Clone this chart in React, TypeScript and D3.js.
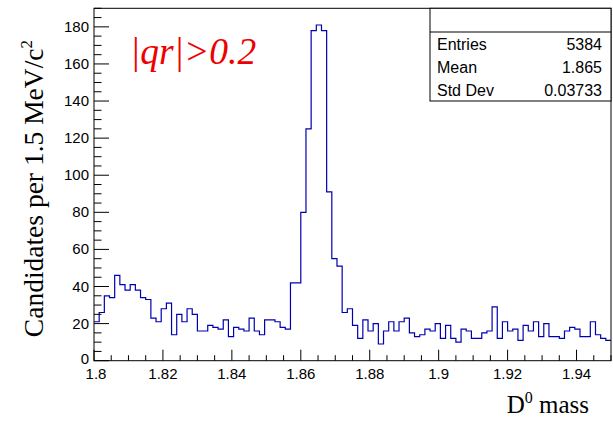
import React from "react";
import * as d3 from "d3";

const X_MIN = 1.8;
const X_MAX = 1.95;
const Y_MAX = 190;

const counts: number[] = [
  21, 26, 35, 34, 46, 41, 38, 41, 38, 34, 33, 23, 21, 28, 31, 14, 25, 21, 28, 25,
  16, 16, 19, 18, 17, 22, 13, 18, 17, 16, 23, 16, 14, 22, 22, 21, 18, 17,
  42, 42, 80, 125, 178, 181, 178, 91, 55, 51, 26, 28, 19, 12, 22, 16, 20, 9,
  16, 21, 16, 21, 23, 15, 13, 14, 17, 16, 20, 12, 19, 12, 10, 17, 16, 12, 12, 15,
  16, 29, 12, 21, 16, 17, 11, 19, 16, 21, 13, 20, 13, 13, 12, 16, 18, 17, 13, 13,
  21, 14, 12, 11,
];

const xTickValues = [1.8, 1.82, 1.84, 1.86, 1.88, 1.9, 1.92, 1.94];
const xTickLabels = ["1.8", "1.82", "1.84", "1.86", "1.88", "1.9", "1.92", "1.94"];
const yTickValues = [0, 20, 40, 60, 80, 100, 120, 140, 160, 180];

const statNames = ["Entries", "Mean", "Std Dev"];
const statValues = ["5384", "1.865", "0.03733"];

const L = 94, R = 611, T = 8.3, B = 360.7;

export default function App() {
  const x = d3.scaleLinear().domain([X_MIN, X_MAX]).range([L, R]);
  const y = d3.scaleLinear().domain([0, Y_MAX]).range([B, T]);
  const n = counts.length;
  const bw = (X_MAX - X_MIN) / n;

  const pts: [number, number][] = [];
  counts.forEach((c, i) => {
    pts.push([x(X_MIN + i * bw), y(c)]);
    pts.push([x(X_MIN + (i + 1) * bw), y(c)]);
  });
  const path = d3.line()(pts) || "";

  const xMinor = d3.range(0, 31).map((k) => X_MIN + k * 0.005);
  const yMinor = d3.range(0, 39).map((k) => k * 5);

  const sans = "'Liberation Sans', Arial, Helvetica, sans-serif";
  const serif = "'Liberation Serif', 'Times New Roman', serif";

  return (
    <svg width={613} height={422} style={{ position: "absolute", left: 0, top: 0, background: "#fff" }}>
      <rect x={0} y={0} width={613} height={422} fill="#fff" />
      {/* histogram */}
      <path d={path} fill="none" stroke="#0000b0" strokeWidth={1.2} />
      {/* frame */}
      <rect x={L} y={T} width={R - L} height={B - T} fill="none" stroke="#000" strokeWidth={1} />
      {/* y ticks */}
      {yMinor.filter((v) => v <= Y_MAX).map((v) => (
        <line key={"ym" + v} x1={L} x2={L + (v % 20 === 0 ? 15 : 7.5)} y1={y(v)} y2={y(v)} stroke="#000" strokeWidth={1} />
      ))}
      {yTickValues.map((v) => (
        <text key={"yl" + v} x={L - 5} y={y(v) + (v === 0 ? 3.5 : 5)} textAnchor="end" fontFamily={sans} fontSize={15} fill="#000">
          {v}
        </text>
      ))}
      {/* x ticks */}
      {xMinor.map((v, k) => (
        <line key={"xm" + k} x1={x(v)} x2={x(v)} y1={B} y2={B - (k % 4 === 0 ? 11 : 5.5)} stroke="#000" strokeWidth={1} />
      ))}
      {xTickValues.map((v, i) => (
        <text key={"xl" + i} x={x(v) + (i === 0 ? 2 : 0)} y={379} textAnchor="middle" fontFamily={sans} fontSize={15} fill="#000">
          {xTickLabels[i]}
        </text>
      ))}
      {/* axis titles */}
      <text x={589} y={413} textAnchor="end" fontFamily={serif} fontSize={25} fill="#000">
        D<tspan dy={-10} fontSize={16}>0</tspan>
        <tspan dy={10}> mass</tspan>
      </text>
      <text transform="translate(43,40) rotate(-90)" textAnchor="end" fontFamily={serif} fontSize={27.5} fill="#000">
        Candidates per 1.5 MeV/c<tspan dy={-11} fontSize={17}>2</tspan>
      </text>
      {/* label */}
      <text x={130} y={64} fontFamily={serif} fontStyle="italic" fontSize={37.5} fill="#ee0000">
        |qr|&gt;0.2
      </text>
      {/* stats box */}
      <rect x={430} y={T} width={R - 430} height={101 - T} fill="#fff" stroke="#000" strokeWidth={1} />
      <line x1={430} x2={R} y1={32} y2={32} stroke="#000" strokeWidth={1} />
      {statNames.map((s, i) => (
        <g key={s}>
          <text x={437} y={50 + i * 23} fontFamily={sans} fontSize={16} fill="#000">{s}</text>
          <text x={602} y={50 + i * 23} textAnchor="end" fontFamily={sans} fontSize={16} fill="#000">{statValues[i]}</text>
        </g>
      ))}
    </svg>
  );
}
